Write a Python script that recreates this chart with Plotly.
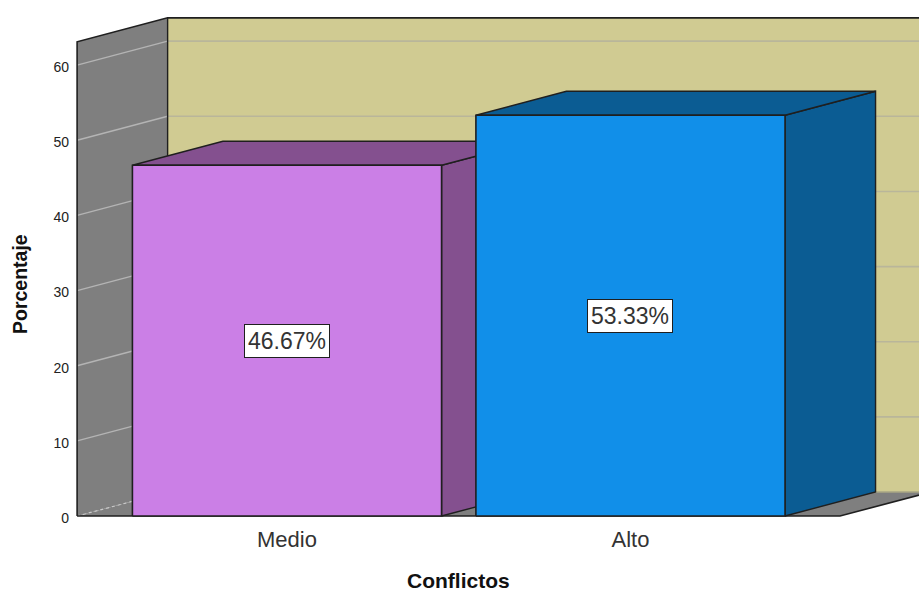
import plotly.graph_objects as go

categories = ["Medio", "Alto"]
values = [46.67, 53.33]
labels = ["46.67%", "53.33%"]
y_ticks = [0, 10, 20, 30, 40, 50, 60]
front_colors = ["#cb7fe6", "#118fe9"]
side_colors = ["#84508f", "#0b5c93"]

FONT = "Liberation Sans, Arial, sans-serif"
WALL, BACK = "#7f7f7f", "#d0cb92"
INK = "#1f1f1f"
BAR_W = 0.9
DX, DY = 0.2635, 3.19         # oblique depth offset, in axis units
X0, X1, Y_TOP = -0.611, 1.61, 63.1

W, H = 919, 592
L, R, T, B = 70, 0, 8, 72
X_RANGE = [-0.6317, 1.84]
Y_RANGE = [-0.531, 67.6]

fig = go.Figure()


def poly(xs, ys, fill, line=None, width=1.4):
    fig.add_trace(go.Scatter(
        x=list(xs) + [xs[0]], y=list(ys) + [ys[0]], mode="lines", fill="toself",
        fillcolor=fill, line=dict(color=line or fill, width=width if line else 0),
        hoverinfo="skip", showlegend=False))


def path(xs, ys, color, width=1.4, dash="solid"):
    fig.add_trace(go.Scatter(
        x=xs, y=ys, mode="lines", line=dict(color=color, width=width, dash=dash),
        hoverinfo="skip", showlegend=False))


# walls and floor
poly([X0, X0 + DX, X0 + DX, X0], [0, DY, Y_TOP + DY, Y_TOP], WALL)
poly([X0, X1, X1 + DX, X0 + DX], [0, 0, DY, DY], WALL)
poly([X0 + DX, X1 + DX, X1 + DX, X0 + DX], [DY, DY, Y_TOP + DY, Y_TOP + DY], BACK)

# gridlines
for t in y_ticks:
    if t == 0:
        path([X0, X0 + DX], [0, DY], "#c9c9c9", 1.2, "dot")
        path([X0 + DX, X1 + DX], [DY, DY], "#a9a684", 1.6)
    else:
        path([X0, X0 + DX], [t, t + DY], "#b4b4b4", 1.4)
        path([X0 + DX, X1 + DX], [t + DY, t + DY], "#b9b69a", 1.6)

# wall outlines
path([X0, X0, X0 + DX, X1 + DX], [0, Y_TOP, Y_TOP + DY, Y_TOP + DY], INK, 1.6)
path([X0 + DX, X0 + DX], [DY, Y_TOP + DY], INK, 1.4)
path([X0, X1, X1 + DX], [0, 0, DY], INK, 1.6)

# bars
for i, v in enumerate(values):
    a, b = i - BAR_W / 2, i + BAR_W / 2
    poly([b, b + DX, b + DX, b], [0, DY, v + DY, v], side_colors[i], INK)
    poly([a, b, b + DX, a + DX], [v, v, v + DY, v + DY], side_colors[i], INK)
    poly([a, b, b, a], [0, 0, v, v], front_colors[i], INK, 1.6)

annotations = [
    dict(x=i, y=v / 2, xref="x", yref="y", text=labels[i], showarrow=False,
         font=dict(family=FONT, size=23, color="#333333"), bgcolor="#ffffff",
         bordercolor=INK, borderwidth=1, borderpad=3)
    for i, v in enumerate(values)
]
pw, ph = W - L - R, H - T - B
annotations += [
    dict(text="<b>Conflictos</b>", x=(458 - L) / pw, y=(H - B - 580) / ph,
         xref="paper", yref="paper", showarrow=False, xanchor="center", yanchor="middle",
         font=dict(family=FONT, size=21, color="#111111")),
    dict(text="<b>Porcentaje</b>", x=(20 - L) / pw, y=(H - B - 284) / ph, textangle=-90,
         xref="paper", yref="paper", showarrow=False, xanchor="center", yanchor="middle",
         font=dict(family=FONT, size=19.5, color="#111111")),
]

fig.update_layout(
    width=W, height=H, autosize=False,
    margin=dict(l=L, r=R, t=T, b=B, pad=0),
    paper_bgcolor="white", plot_bgcolor="white", showlegend=False,
    annotations=annotations,
    xaxis=dict(range=X_RANGE, tickmode="array", tickvals=list(range(len(categories))),
               ticktext=categories, showgrid=False, zeroline=False, showline=False,
               ticks="", ticklabelstandoff=4,
               tickfont=dict(family=FONT, size=22, color="#333333")),
    yaxis=dict(range=Y_RANGE, tickmode="array", tickvals=y_ticks, showgrid=False,
               zeroline=False, showline=False, ticks="", ticklabelstandoff=0,
               ticklabelshift=2,
               tickfont=dict(family=FONT, size=14, color="#222222")),
)

fig.write_html("out.html", config={"displayModeBar": False},
               post_script="document.body.style.margin='0';document.documentElement.style.overflow='hidden';")
